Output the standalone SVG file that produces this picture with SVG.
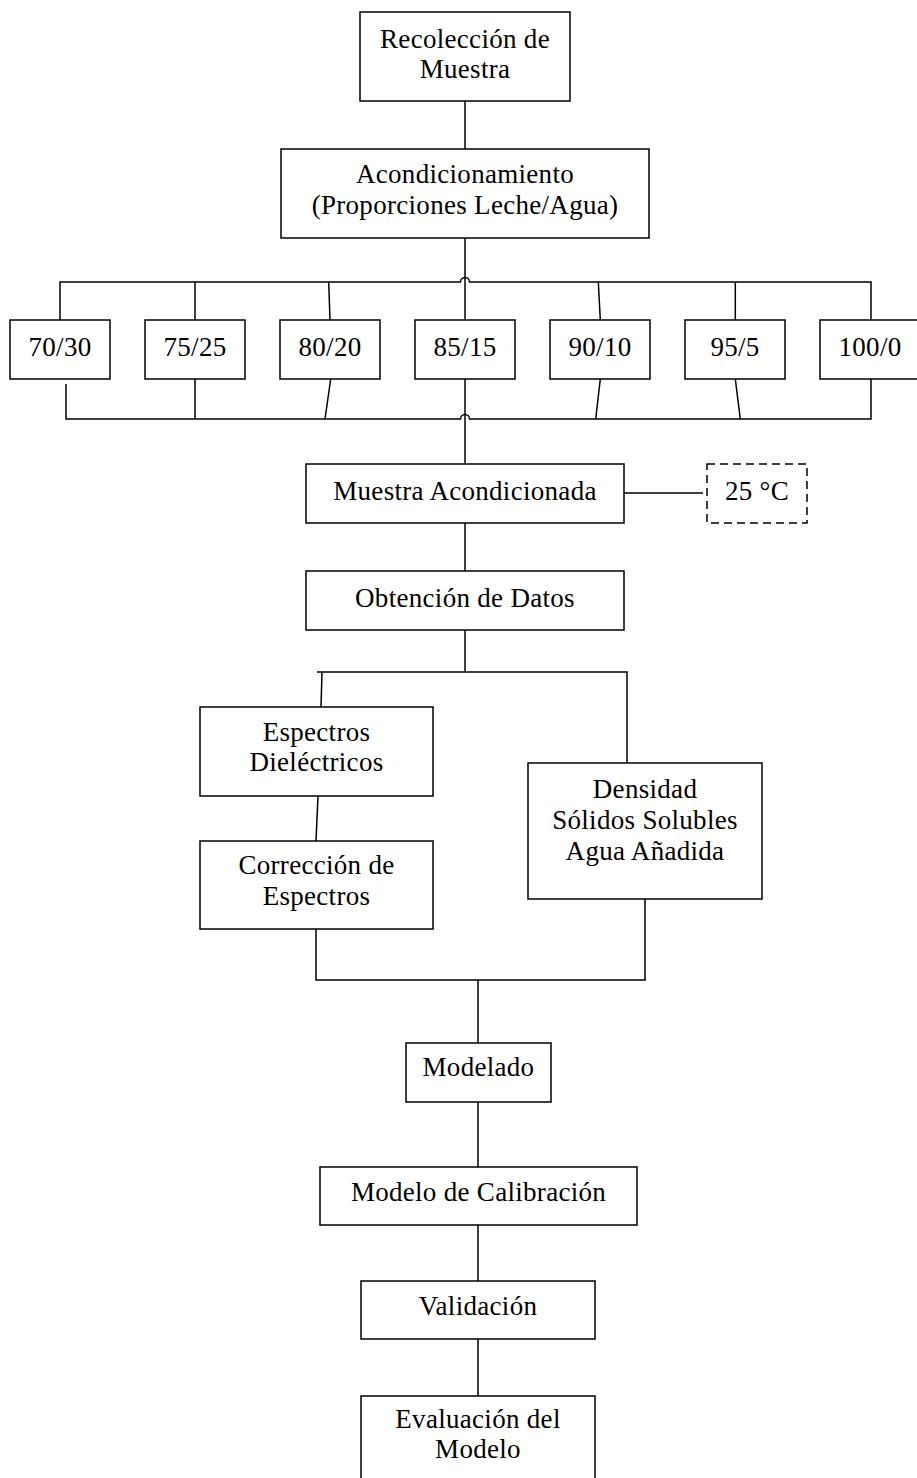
<svg xmlns="http://www.w3.org/2000/svg" width="917" height="1478" viewBox="0 0 917 1478">
<style>
.box{fill:#fff;stroke:#000;stroke-width:1.5}
.dash{fill:#fff;stroke:#000;stroke-width:1.5;stroke-dasharray:8 5}
.ln{fill:none;stroke:#000;stroke-width:1.5}
text{font-family:"Liberation Serif","Times New Roman",serif;font-size:27px;letter-spacing:0.3px;fill:#000;text-anchor:middle}
</style>
<rect width="917" height="1478" fill="#fff"/>
<g id="connectors">
<path class="ln" d="M465 101V149"/>
<path class="ln" d="M465 238V465"/>
<path class="ln" d="M60 320V282H460.5A4.5 4.5 0 0 1 469.5 282H871V320"/>
<path class="ln" d="M195 282V320M328.7 282L330 320M598.3 282L600.3 320M735.3 282V320"/>
<path class="ln" d="M66 384V419H460.5A4.5 4.5 0 0 1 469.5 419H871V379"/>
<path class="ln" d="M195 379V419M330.7 379L325 419M600.3 379L595.7 419M735.3 379L740.3 419"/>
<path class="ln" d="M624 493H703"/>
<path class="ln" d="M465 523V571"/>
<path class="ln" d="M465 630V672"/>
<path class="ln" d="M317 672H627V763M322 672L321 707"/>
<path class="ln" d="M318 796L316 841"/>
<path class="ln" d="M316 929V980H645V899M478 980V1043"/>
<path class="ln" d="M478 1102V1167"/>
<path class="ln" d="M478 1225V1281"/>
<path class="ln" d="M478 1339V1396"/>
</g>
<g id="recoleccion"><rect class="box" x="360" y="12" width="210" height="89"/><text x="465" y="48">Recolección de</text><text x="465" y="78">Muestra</text></g>
<g id="acondicionamiento"><rect class="box" x="281" y="149" width="368" height="89"/><text x="465" y="183">Acondicionamiento</text><text x="465" y="214">(Proporciones Leche/Agua)</text></g>
<g id="p7030"><rect class="box" x="10" y="320" width="100" height="59"/><text x="60" y="356">70/30</text></g>
<g id="p7525"><rect class="box" x="145" y="320" width="100" height="59"/><text x="195" y="356">75/25</text></g>
<g id="p8020"><rect class="box" x="280" y="320" width="100" height="59"/><text x="330" y="356">80/20</text></g>
<g id="p8515"><rect class="box" x="415" y="320" width="100" height="59"/><text x="465" y="356">85/15</text></g>
<g id="p9010"><rect class="box" x="550" y="320" width="100" height="59"/><text x="600" y="356">90/10</text></g>
<g id="p955"><rect class="box" x="685" y="320" width="100" height="59"/><text x="735" y="356">95/5</text></g>
<g id="p1000"><rect class="box" x="820" y="320" width="100" height="59"/><text x="870" y="356">100/0</text></g>
<g id="muestra-acond"><rect class="box" x="306" y="464" width="318" height="59"/><text x="465" y="500">Muestra Acondicionada</text></g>
<g id="temp"><rect class="dash" x="707" y="464" width="100" height="59"/><text x="757" y="500">25 °C</text></g>
<g id="obtencion"><rect class="box" x="306" y="571" width="318" height="59"/><text x="465" y="607">Obtención de Datos</text></g>
<g id="espectros"><rect class="box" x="200" y="707" width="233" height="89"/><text x="316.5" y="741">Espectros</text><text x="316.5" y="771">Dieléctricos</text></g>
<g id="correccion"><rect class="box" x="200" y="841" width="233" height="88"/><text x="316.5" y="874">Corrección de</text><text x="316.5" y="905">Espectros</text></g>
<g id="densidad"><rect class="box" x="528" y="763" width="234" height="136"/><text x="645" y="798">Densidad</text><text x="645" y="829">Sólidos Solubles</text><text x="645" y="860">Agua Añadida</text></g>
<g id="modelado"><rect class="box" x="406" y="1043" width="145" height="59"/><text x="478.5" y="1076">Modelado</text></g>
<g id="calibracion"><rect class="box" x="320" y="1167" width="317" height="58"/><text x="478.5" y="1201">Modelo de Calibración</text></g>
<g id="validacion"><rect class="box" x="361" y="1281" width="234" height="58"/><text x="478" y="1315">Validación</text></g>
<g id="evaluacion"><rect class="box" x="361" y="1396" width="234" height="100"/><text x="478" y="1428">Evaluación del</text><text x="478" y="1458">Modelo</text></g>
</svg>
